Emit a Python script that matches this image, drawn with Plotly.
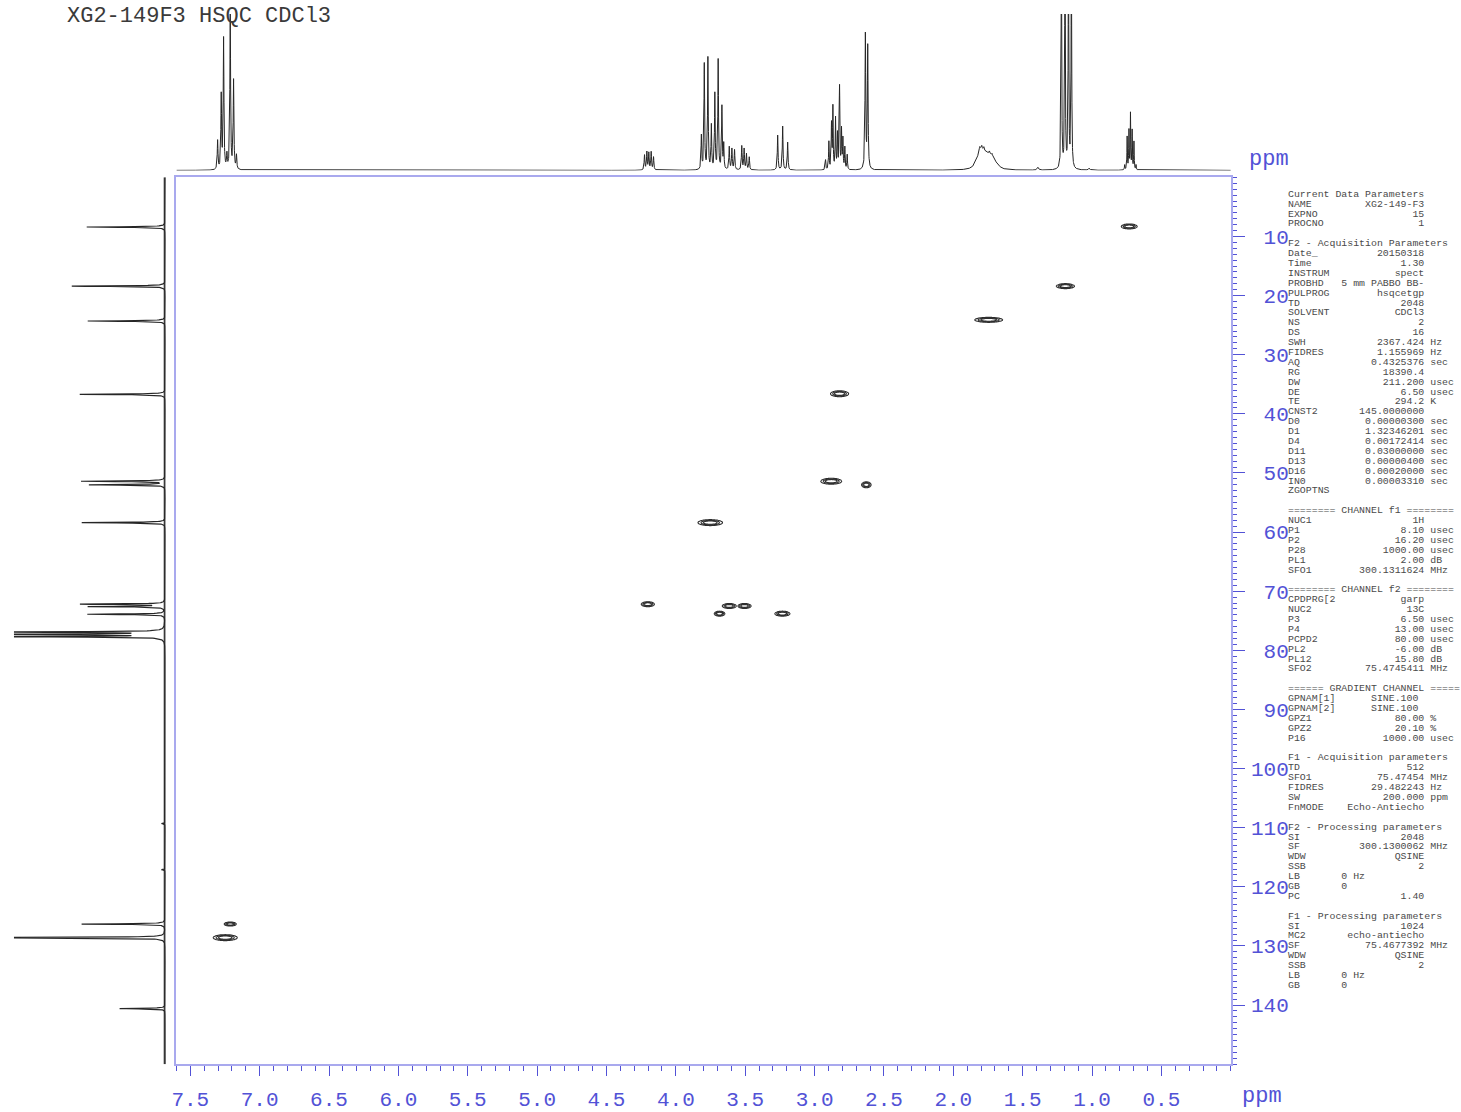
import numpy as np
import plotly.graph_objects as go

W, H = 1461, 1112

# ---------------- 1H projection (F2 axis) ----------------
h1_shift = [7.303, 7.277, 7.260, 7.236, 7.212, 7.188, 7.167,
            4.226, 4.209, 4.195, 4.178, 4.161,
            3.816, 3.795, 3.769, 3.744, 3.719, 3.695, 3.668, 3.655,
            3.615, 3.596, 3.577,
            3.525, 3.508, 3.491, 3.471,
            3.266, 3.230, 3.194,
            2.921, 2.897, 2.878, 2.868, 2.849, 2.835, 2.820, 2.806, 2.796, 2.782, 2.765,
            2.634, 2.617,
            1.830, 1.805, 1.780, 1.755, 1.730, 1.705, 1.680,
            1.810, 1.795, 1.780, 1.740, 1.720,
            1.390, 1.221, 1.195, 1.170, 1.149, 1.020,
            0.765, 0.747, 0.734, 0.723, 0.711, 0.698, 0.683]
h1_height = [29, 74, 131, 14, 158, 89, 14,
             15, 18, 17, 18, 13,
             34, 106, 112, 44, 76, 110, 63, 25,
             23, 21, 20,
             24, 21, 16, 13,
             35, 44, 28,
             10, 28, 45, 62, 51, 35, 83, 39, 30, 22, 15,
             135, 123,
             5, 13, 10, 8, 8, 5, 2,
             4, 4, 3, 3, 3,
             3, 230, 230, 230, 230, 2,
             5, 33, 39, 56, 39, 28, 5]
h1_hwhm = [0.003] * 7 + [0.003] * 5 + [0.0028] * 8 + [0.003] * 3 + [0.003] * 4 + \
          [0.003] * 3 + [0.0025] * 11 + [0.003] * 2 + [0.02] * 7 + [0.004] * 5 + \
          [0.006, 0.0025, 0.0025, 0.0025, 0.0025, 0.006] + [0.002] * 7

# ---------------- 13C projection (F1 axis) ----------------
c13_shift = [8.4, 18.4, 24.3, 36.7, 51.4, 52.0, 58.4, 72.2, 72.6, 73.9,
             76.9, 77.3, 77.7, 109.3, 117.1, 126.3, 128.6, 140.6]
c13_height = [79, 94, 78, 86, 84, 76, 84, 84, 76, 78,
              190, 200, 190, 4, 4, 84, 200, 46]
c13_hwhm = 0.06

# ---------------- HSQC cross peaks ----------------
cross_h = [0.732, 1.192, 1.745, 2.820, 2.880, 2.627, 3.752, 4.202, 3.615, 3.505, 3.685, 3.232, 7.212, 7.248]
cross_c = [8.3, 18.4, 24.1, 36.6, 51.4, 52.0, 58.4, 72.2, 72.5, 72.5, 73.8, 73.8, 126.3, 128.6]
cross_h_hw = [0.057, 0.065, 0.10, 0.065, 0.075, 0.034, 0.088, 0.047, 0.05, 0.047, 0.038, 0.054, 0.043, 0.086]
cross_c_hw = [0.42, 0.42, 0.42, 0.5, 0.5, 0.5, 0.5, 0.42, 0.42, 0.42, 0.42, 0.42, 0.34, 0.5]

# ---------------- axes ----------------
f2_range = [7.6, 0.0]
f1_range = [150, 0]
f2_ticks = [7.5, 7.0, 6.5, 6.0, 5.5, 5.0, 4.5, 4.0, 3.5, 3.0, 2.5, 2.0, 1.5, 1.0, 0.5]
f1_ticks = [10, 20, 30, 40, 50, 60, 70, 80, 90, 100, 110, 120, 130, 140]

title_text = "XG2-149F3 HSQC CDCl3"

param_rows = [
    ("Current Data Parameters",),
    ("NAME", "XG2-149-F3", ""), ("EXPNO", "15", ""), ("PROCNO", "1", ""),
    None,
    ("F2 - Acquisition Parameters",),
    ("Date_", "20150318", ""), ("Time", "1.30", ""), ("INSTRUM", "spect", ""),
    ("PROBHD", "5 mm PABBO BB-", ""), ("PULPROG", "hsqcetgp", ""), ("TD", "2048", ""),
    ("SOLVENT", "CDCl3", ""), ("NS", "2", ""), ("DS", "16", ""),
    ("SWH", "2367.424", "Hz"), ("FIDRES", "1.155969", "Hz"), ("AQ", "0.4325376", "sec"),
    ("RG", "18390.4", ""), ("DW", "211.200", "usec"), ("DE", "6.50", "usec"),
    ("TE", "294.2", "K"), ("CNST2", "145.0000000", ""), ("D0", "0.00000300", "sec"),
    ("D1", "1.32346201", "sec"), ("D4", "0.00172414", "sec"), ("D11", "0.03000000", "sec"),
    ("D13", "0.00000400", "sec"), ("D16", "0.00020000", "sec"), ("IN0", "0.00003310", "sec"),
    ("ZGOPTNS", "", ""),
    None,
    ("======== CHANNEL f1 ========",),
    ("NUC1", "1H", ""), ("P1", "8.10", "usec"), ("P2", "16.20", "usec"),
    ("P28", "1000.00", "usec"), ("PL1", "2.00", "dB"), ("SFO1", "300.1311624", "MHz"),
    None,
    ("======== CHANNEL f2 ========",),
    ("CPDPRG[2", "garp", ""), ("NUC2", "13C", ""), ("P3", "6.50", "usec"),
    ("P4", "13.00", "usec"), ("PCPD2", "80.00", "usec"), ("PL2", "-6.00", "dB"),
    ("PL12", "15.80", "dB"), ("SFO2", "75.4745411", "MHz"),
    None,
    ("====== GRADIENT CHANNEL =====",),
    ("GPNAM[1]", "SINE.100 ", ""), ("GPNAM[2]", "SINE.100 ", ""), ("GPZ1", "80.00", "%"),
    ("GPZ2", "20.10", "%"), ("P16", "1000.00", "usec"),
    None,
    ("F1 - Acquisition parameters",),
    ("TD", "512", ""), ("SFO1", "75.47454", "MHz"), ("FIDRES", "29.482243", "Hz"),
    ("SW", "200.000", "ppm"), ("FnMODE", "Echo-Antiecho", ""),
    None,
    ("F2 - Processing parameters",),
    ("SI", "2048", ""), ("SF", "300.1300062", "MHz"), ("WDW", "QSINE", ""),
    ("SSB", "2", ""), ("LB       0 Hz",), ("GB       0",), ("PC", "1.40", ""),
    None,
    ("F1 - Processing parameters",),
    ("SI", "1024", ""), ("MC2", "echo-antiecho", ""), ("SF", "75.4677392", "MHz"),
    ("WDW", "QSINE", ""), ("SSB", "2", ""), ("LB       0 Hz",), ("GB       0",),
]


def lorentz_sum(axis, centers, heights, widths):
    axis = np.asarray(axis)
    out = np.zeros_like(axis)
    widths = np.broadcast_to(np.asarray(widths, dtype=float), (len(centers),))
    for c, h, w in zip(centers, heights, widths):
        out += h / (1.0 + ((axis - c) / w) ** 2)
    return out


def px_x(px):
    return px / W


def px_y(py):
    return 1 - py / H


BLUE = "#5252d6"
FRAME = "#a9a9ee"
INK = "#262626"
MONO = "Liberation Mono, DejaVu Sans Mono, monospace"

fig = go.Figure()

# 1H trace on top
h_axis = np.union1d(np.linspace(0.0, 7.6, 7601), h1_shift)
h_int = lorentz_sum(h_axis, h1_shift, h1_height, h1_hwhm)
fig.add_trace(go.Scatter(x=np.round(h_axis, 4), y=np.round(h_int, 2), mode="lines",
                         line=dict(color=INK, width=1), xaxis="x2", yaxis="y2",
                         hoverinfo="skip", showlegend=False))

# 13C trace on the left: baseline band then the spectrum
c_axis = np.union1d(np.linspace(0.0, 150.0, 6001), c13_shift)
c_int = lorentz_sum(c_axis, c13_shift, c13_height, c13_hwhm)
fig.add_trace(go.Scatter(x=np.zeros(2), y=[0, 150], mode="lines",
                         line=dict(color="#3a3a3a", width=3.5), xaxis="x3", yaxis="y3",
                         hoverinfo="skip", showlegend=False))
fig.add_trace(go.Scatter(x=np.round(c_int, 2), y=np.round(c_axis, 3), mode="lines",
                         line=dict(color=INK, width=1.2), xaxis="x3", yaxis="y3",
                         hoverinfo="skip", showlegend=False))

# HSQC contours
for h0, c0, hw, cw in zip(cross_h, cross_c, cross_h_hw, cross_c_hw):
    sh, sc = hw / 1.79, cw / 1.79
    xs = np.linspace(h0 - 2.4 * hw, h0 + 2.4 * hw, 61)
    ys = np.linspace(c0 - 2.4 * cw, c0 + 2.4 * cw, 41)
    X, Y = np.meshgrid(xs, ys)
    Z = np.exp(-0.5 * ((X - h0) / sh) ** 2 - 0.5 * ((Y - c0) / sc) ** 2)
    fig.add_trace(go.Contour(x=xs, y=ys, z=np.round(Z, 4),
                             contours=dict(start=0.2, end=0.6, size=0.2, coloring="none"),
                             line=dict(color="#2e2e2e", width=1.1), showscale=False,
                             hoverinfo="skip", xaxis="x", yaxis="y"))

dom_x = [px_x(172), px_x(1230)]
dom_y = [px_y(1068), px_y(178)]

fig.update_layout(
    width=W, height=H, margin=dict(l=0, r=0, t=0, b=0),
    paper_bgcolor="white", plot_bgcolor="white", showlegend=False,
    xaxis=dict(domain=dom_x, range=f2_range, anchor="y", showgrid=False, zeroline=False,
               showline=True, mirror=True, linecolor=FRAME, linewidth=2,
               tickmode="array", tickvals=f2_ticks, ticktext=[f"{v:.1f}" for v in f2_ticks],
               ticks="outside", ticklen=10, tickcolor=BLUE, tickwidth=1,
               ticklabelstandoff=5,
               minor=dict(tickmode="linear", tick0=0, dtick=0.1, ticks="outside",
                          ticklen=5, tickcolor=BLUE),
               tickfont=dict(family=MONO, size=21, color=BLUE)),
    yaxis=dict(domain=dom_y, range=f1_range, anchor="x", side="right", showgrid=False,
               zeroline=False, showline=True, mirror=True, linecolor=FRAME, linewidth=2,
               tickmode="array", tickvals=f1_ticks,
               ticktext=[f"{v:>3d}".replace(" ", "\u00a0") for v in f1_ticks],
               ticks="outside", ticklen=12, tickcolor=BLUE, tickwidth=1,
               ticklabelstandoff=2,
               minor=dict(tickmode="linear", tick0=0, dtick=1, ticks="outside",
                          ticklen=4, tickcolor=BLUE),
               tickfont=dict(family=MONO, size=21, color=BLUE)),
    xaxis2=dict(domain=dom_x, range=f2_range, anchor="y2", visible=False),
    yaxis2=dict(domain=[px_y(171), px_y(14)], range=[0, 157], anchor="x2", visible=False),
    xaxis3=dict(domain=[px_x(9), px_x(161)], range=[152, 0], anchor="y3", visible=False),
    yaxis3=dict(domain=dom_y, range=f1_range, anchor="x3", visible=False),
)

annotations = [
    dict(text=title_text, x=px_x(60), y=px_y(17), xref="paper", yref="paper",
         xanchor="left", yanchor="middle", showarrow=False,
         font=dict(family=MONO, size=22, color="#3a3a3a")),
    dict(text="ppm", x=px_x(1268), y=px_y(160), xref="paper", yref="paper",
         xanchor="center", yanchor="middle", showarrow=False,
         font=dict(family=MONO, size=22, color=BLUE)),
    dict(text="ppm", x=px_x(1261), y=px_y(1100), xref="paper", yref="paper",
         xanchor="center", yanchor="middle", showarrow=False,
         font=dict(family=MONO, size=22, color=BLUE)),
]

VALUE_COL = 23
for i, row in enumerate(param_rows):
    if row is None:
        continue
    if len(row) == 1:
        line = row[0]
    else:
        label, value, unit = row
        line = label.ljust(VALUE_COL - len(value)) + value
        if unit:
            line += " " + unit
    annotations.append(dict(text=line.replace(" ", "\u00a0"), x=px_x(1285), y=px_y(195 + i * 9.925),
                            xref="paper", yref="paper", xanchor="left", yanchor="middle",
                            showarrow=False, font=dict(family=MONO, size=9.9, color="#4a4a4a")))

fig.update_layout(annotations=annotations)
fig.write_html("out.html")
